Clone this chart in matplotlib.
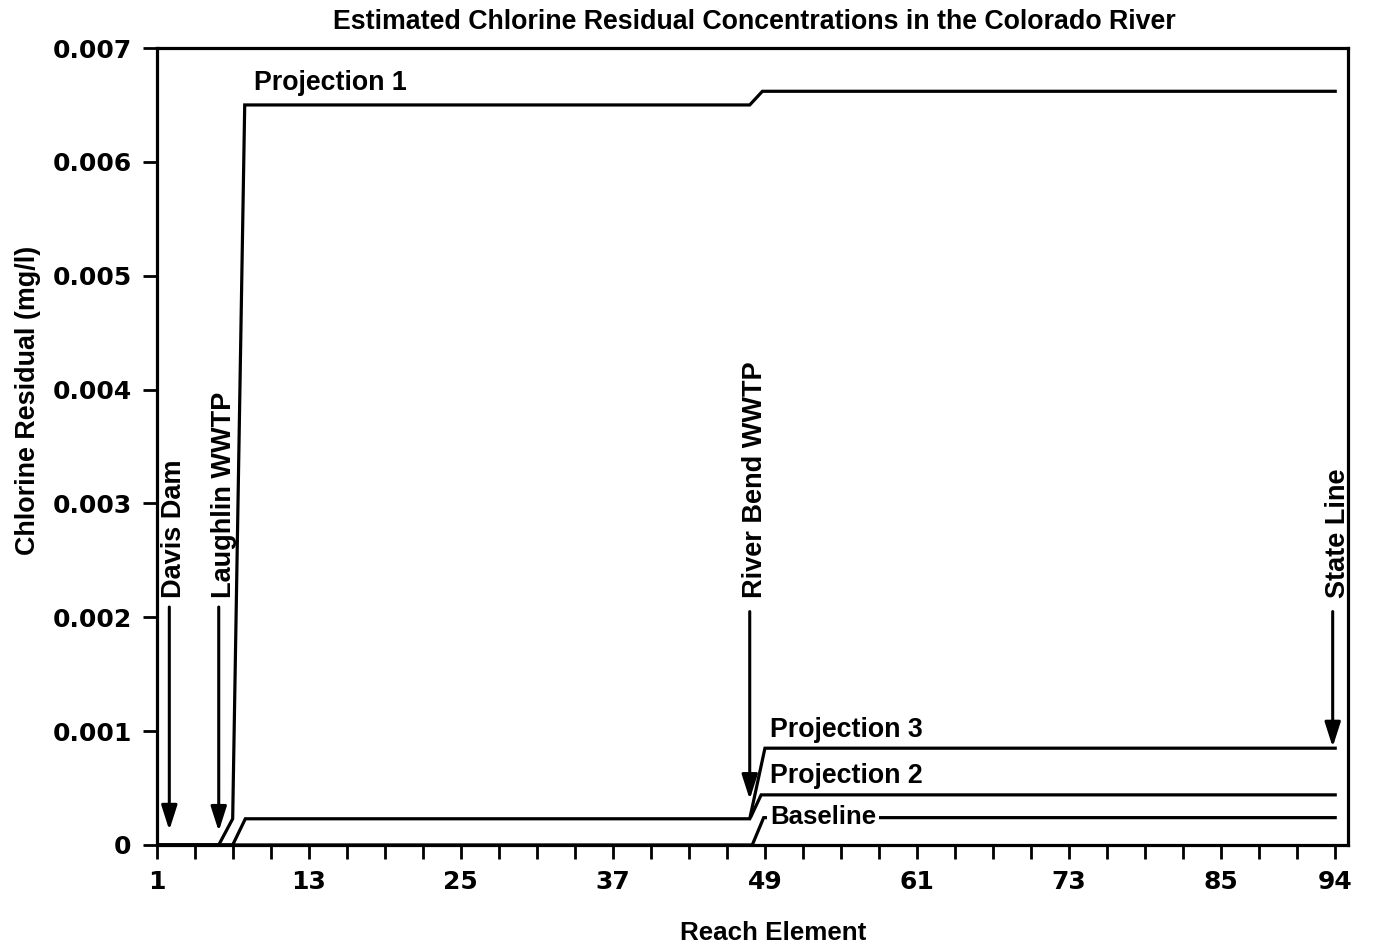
import matplotlib
matplotlib.use('Agg')
import matplotlib.pyplot as plt
import numpy as np

plt.rcParams['font.family'] = ['Liberation Sans', 'DejaVu Sans']
plt.rcParams['font.weight'] = 'bold'

# reach element / chlorine residual (mg/l)
proj1_x = [1, 5.9, 7.0, 7.95, 47.8, 48.8, 94]
proj1_y = [0, 0, 0.00023, 0.0065, 0.0065, 0.00662, 0.00662]

proj3_x = [1, 7.0, 8.0, 47.8, 49.0, 94]
proj3_y = [0, 0, 0.00023, 0.00023, 0.00085, 0.00085]

proj2_x = [47.9, 48.7, 94]
proj2_y = [0.00025, 0.00044, 0.00044]

base_x = [1, 48.0, 48.9, 94]
base_y = [0, 0, 0.00024, 0.00024]

# point sources marked with arrows: (name, element, tail value, tip value)
markers = [
    ('Davis Dam', 2.0, 0.00209, 0.00013),
    ('Laughlin WWTP', 5.9, 0.00209, 0.00012),
    ('River Bend WWTP', 47.8, 0.00205, 0.00040),
    ('State Line', 93.8, 0.00205, 0.00086),
]

series_labels = [
    ('Projection 1', 8.7, 0.00669),
    ('Projection 3', 49.4, 0.00101),
    ('Projection 2', 49.4, 0.00061),
]

x_ticks = np.arange(1, 95, 3)
x_labels = [1, 13, 25, 37, 49, 61, 73, 85, 94]
y_ticks = [0, 0.001, 0.002, 0.003, 0.004, 0.005, 0.006, 0.007]
y_labels = ['0', '0.001', '0.002', '0.003', '0.004', '0.005', '0.006', '0.007']

fig = plt.figure(figsize=(13.74, 9.51), dpi=100)
ax = fig.add_axes([0.114, 0.1115, 0.867, 0.838])

lw = 2.3
for xs, ys in [(proj1_x, proj1_y), (proj3_x, proj3_y), (proj2_x, proj2_y), (base_x, base_y)]:
    ax.plot(xs, ys, color='black', lw=lw, solid_joinstyle='miter', zorder=3)

for name, xe, tail, tip in markers:
    ax.annotate('', xy=(xe, tip), xytext=(xe, tail),
                arrowprops=dict(arrowstyle='-|>,head_length=0.75,head_width=0.24',
                                mutation_scale=20, lw=2.2, color='black',
                                shrinkA=0, shrinkB=0), zorder=4)
    ax.text(xe + 0.4, 0.00217, name, rotation=90, ha='center', va='bottom',
            fontsize=19.5, fontweight='bold')

for name, xe, yv in series_labels:
    ax.text(xe, yv, name, ha='left', va='center', fontsize=19.3, fontweight='bold')

ax.text(49.4, 0.00025, 'Baseline', ha='left', va='center', fontsize=18.5,
        fontweight='bold', zorder=5,
        bbox=dict(facecolor='white', edgecolor='none', pad=2))

ax.set_xlim(1, 95)
ax.set_ylim(0, 0.007)
ax.set_xticks(x_ticks)
ax.set_xticklabels([str(t) if t in x_labels else '' for t in x_ticks])
ax.set_yticks(y_ticks)
ax.set_yticklabels(y_labels)
ax.tick_params(direction='out', length=10, width=2, pad=8)
for lab in ax.get_xticklabels() + ax.get_yticklabels():
    lab.set_fontfamily('DejaVu Sans')
    lab.set_fontsize(18)
    lab.set_fontweight('bold')

for s in ax.spines.values():
    s.set_linewidth(2.3)

fig.text(773 / 1374, 1 - 933 / 951, 'Reach Element', ha='center', va='center',
         fontsize=18.7, fontweight='bold')
fig.text(28 / 1374, 1 - 400 / 951, 'Chlorine Residual (mg/l)', rotation=90,
         ha='center', va='center', fontsize=19.4, fontweight='bold')
fig.text(754 / 1374, 1 - 22 / 951,
         'Estimated Chlorine Residual Concentrations in the Colorado River',
         ha='center', va='center', fontsize=19.3, fontweight='bold')

fig.savefig('out.png', dpi=100)
plt.close(fig)
